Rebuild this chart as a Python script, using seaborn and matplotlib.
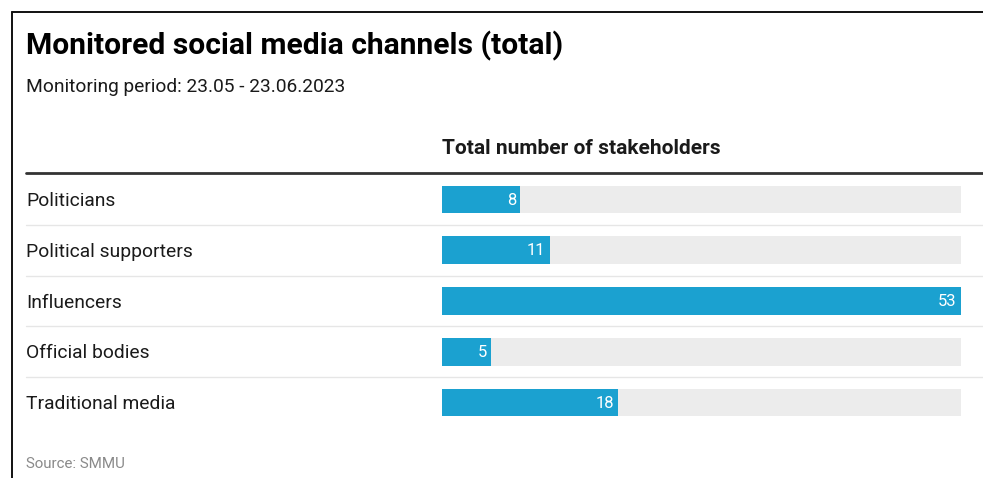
import matplotlib
matplotlib.use("Agg")
import matplotlib.pyplot as plt
import seaborn as sns
import pandas as pd
from matplotlib.lines import Line2D

# Data
categories = ["Politicians", "Political supporters", "Influencers",
              "Official bodies", "Traditional media"]
stakeholders = [8, 11, 53, 5, 18]

title = "Monitored social media channels (total)"
subtitle = "Monitoring period: 23.05 - 23.06.2023"
column_header = "Total number of stakeholders"
source = "Source: SMMU"

BLUE = "#1ba1d0"
TRACK = "#ececec"
SEP = "#e6e6e6"

sns.set_theme(style="white")
plt.rcParams["font.family"] = ["Roboto", "DejaVu Sans"]

W, H = 983, 478
fig = plt.figure(figsize=(W / 100, H / 100), dpi=100)
fig.patch.set_facecolor("white")


def fx(px):
    return px / W


def fy(py):
    return 1 - py / H


# Bar area axes (pixel geometry of the table body)
left_px, right_px = 442, 961
top_px, bot_px = 174, 428
ax = fig.add_axes([fx(left_px), fy(bot_px), fx(right_px - left_px),
                   (bot_px - top_px) / H])

df = pd.DataFrame({"category": categories, "value": stakeholders})
df["track"] = max(stakeholders)

sns.barplot(data=df, x="track", y="category", color=TRACK, width=0.54,
            saturation=1, ax=ax, orient="h", linewidth=0)
sns.barplot(data=df, x="value", y="category", color=BLUE, width=0.54,
            saturation=1, ax=ax, orient="h", linewidth=0)

ax.set_xlim(0, max(stakeholders))
ax.set_ylim(len(categories) - 0.5, -0.5)
ax.set_xlabel("")
ax.set_ylabel("")
ax.set_xticks([])
ax.set_yticks([])
for s in ax.spines.values():
    s.set_visible(False)
ax.patch.set_alpha(0)

# Value labels inside bar ends
for i, v in enumerate(stakeholders):
    ax.annotate(str(v), xy=(v, i), xytext=(-3, -0.5),
                textcoords="offset points", ha="right", va="center",
                color="white", fontsize=12)

# Row labels and separators
row_h = (bot_px - top_px) / len(categories)
for i, cat in enumerate(categories):
    cy = top_px + row_h * (i + 0.5) + 1.5
    fig.text(fx(26), fy(cy), cat, ha="left", va="center", fontsize=13.9,
             color="#1a1a1a")
    if i < len(categories) - 1:
        sy = top_px + row_h * (i + 1)
        fig.add_artist(Line2D([fx(26), 1], [fy(sy), fy(sy)], color=SEP,
                              lw=1.0, transform=fig.transFigure))

# Header line
fig.add_artist(Line2D([fx(26), 1], [fy(173), fy(173)], color="#333333",
                      lw=2.0, transform=fig.transFigure))

# Texts
fig.text(fx(26), fy(46), title, ha="left", va="center", fontsize=21.6,
         fontweight="bold", color="#000000")
fig.text(fx(26), fy(87), subtitle, ha="left", va="center", fontsize=13.8,
         color="#1a1a1a")
fig.text(fx(442), fy(149), column_header, ha="left", va="center",
         fontsize=15, fontweight="bold", color="#1a1a1a")
fig.text(fx(26), fy(464), source, ha="left", va="center", fontsize=10.9,
         color="#8a8a8a")

# Frame edges
fig.add_artist(Line2D([fx(12), 1], [fy(12), fy(12)], color="#111111",
                      lw=1.4, transform=fig.transFigure))
fig.add_artist(Line2D([fx(12), fx(12)], [fy(12), 0], color="#111111",
                      lw=1.4, transform=fig.transFigure))

fig.savefig("out.png", dpi=100, facecolor="white")
